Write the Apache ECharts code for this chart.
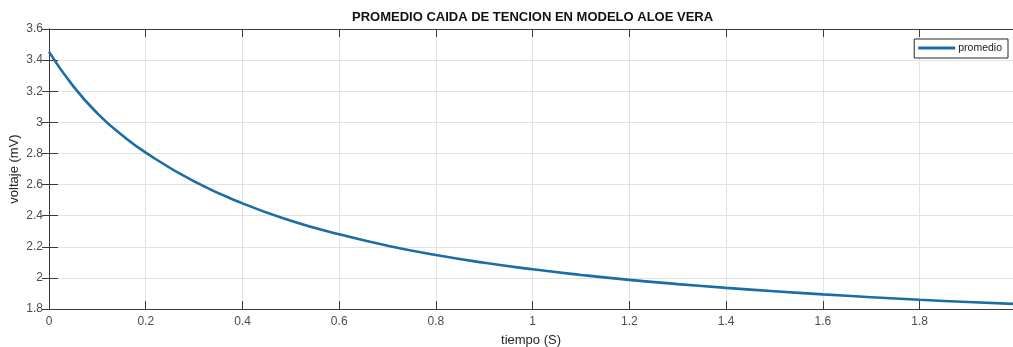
<!DOCTYPE html>
<html>
<head>
<meta charset="utf-8">
<script src="https://cdn.jsdelivr.net/npm/echarts@6/dist/echarts.min.js"></script>
<style>
html,body{margin:0;padding:0;background:#fff;}
#chart{width:1013px;height:347px;}
</style>
</head>
<body>
<div id="chart"></div>
<script>
const tiempo   = [0, 0.05, 0.1, 0.15, 0.2, 0.3, 0.4, 0.5, 0.6, 0.7, 0.8, 0.9, 1.0, 1.1, 1.2, 1.3, 1.4, 1.5, 1.6, 1.7, 1.8, 1.9, 1.993];
const promedio = [3.453, 3.233, 3.058, 2.92, 2.805, 2.62, 2.479, 2.368, 2.28, 2.207, 2.147, 2.097, 2.055, 2.019, 1.987, 1.96, 1.936, 1.914, 1.894, 1.876, 1.859, 1.845, 1.833];
const xTicks = { min: 0, max: 1.993, interval: 0.2 };
const yTicks = { min: 1.8, max: 3.6, interval: 0.2 };
const titleText = 'PROMEDIO CAIDA DE TENCION EN MODELO ALOE VERA';
const seriesName = 'promedio';

const FONT = "'Liberation Sans', Arial, sans-serif";
const axisCol = '#3a3a3a';
const labelCol = '#4d4d4d';
const gridCol = '#e2e2e2';

const chart = echarts.init(document.getElementById('chart'), null, {renderer: 'canvas'});
chart.setOption({
  animation: false,
  backgroundColor: '#fff',
  textStyle: { fontFamily: FONT },
  title: {
    text: titleText,
    left: 352, top: 11, padding: 0,
    textStyle: { fontFamily: FONT, fontSize: 13, fontWeight: 'bold', color: '#111' }
  },
  legend: {
    data: [seriesName],
    right: 5, top: 39,
    orient: 'horizontal',
    backgroundColor: '#fff',
    borderColor: '#262626', borderWidth: 1, borderRadius: 0,
    padding: [3, 6, 4, 4],
    icon: 'rect', itemWidth: 37, itemHeight: 3, itemGap: 4,
    textStyle: { fontFamily: FONT, fontSize: 10.5, color: '#1a1a1a', padding: [0, 0, 0, -2], lineHeight: 12 }
  },
  grid: { left: 49, top: 29, right: 0, bottom: 38, containLabel: false, outerBoundsMode: 'none' },
  xAxis: [{
    type: 'value', position: 'bottom',
    min: xTicks.min, max: xTicks.max, interval: xTicks.interval,
    name: 'tiempo (S)', nameLocation: 'middle', nameGap: 25, nameMoveOverlap: false,
    nameTextStyle: { fontFamily: FONT, fontSize: 13, color: '#262626' },
    axisLine: { show: true, lineStyle: { color: axisCol, width: 1 } },
    axisTick: { show: true, inside: true, length: 8, lineStyle: { color: axisCol } },
    axisLabel: { color: labelCol, fontSize: 12, margin: 7, showMaxLabel: false, fontFamily: FONT },
    splitLine: { show: true, lineStyle: { color: gridCol, width: 1 } }
  }, {
    type: 'value', position: 'top',
    min: xTicks.min, max: xTicks.max, interval: xTicks.interval,
    axisLine: { show: true, lineStyle: { color: axisCol, width: 1 } },
    axisTick: { show: true, inside: true, length: 8, lineStyle: { color: axisCol } },
    axisLabel: { show: false },
    splitLine: { show: false }
  }],
  yAxis: [{
    type: 'value', position: 'left',
    min: yTicks.min, max: yTicks.max, interval: yTicks.interval,
    name: 'voltaje (mV)', nameLocation: 'middle', nameGap: 28, nameRotate: 90, nameMoveOverlap: false,
    nameTextStyle: { fontFamily: FONT, fontSize: 13, color: '#262626' },
    axisLine: { show: true, lineStyle: { color: axisCol, width: 1 } },
    axisTick: { show: true, inside: true, length: 9, lineStyle: { color: axisCol } },
    axisLabel: { color: labelCol, fontSize: 12, margin: 6, fontFamily: FONT,
                 formatter: v => String(Math.round(v * 10) / 10) },
    splitLine: { show: true, lineStyle: { color: gridCol, width: 1 } }
  }, {
    type: 'value', position: 'right',
    min: yTicks.min, max: yTicks.max, interval: yTicks.interval,
    axisLine: { show: true, lineStyle: { color: axisCol, width: 1 } },
    axisTick: { show: true, inside: true, length: 7, lineStyle: { color: axisCol } },
    axisLabel: { show: false },
    splitLine: { show: false }
  }],
  series: [{
    name: seriesName,
    type: 'line',
    xAxisIndex: 0, yAxisIndex: 0,
    data: tiempo.map((t, i) => [t, promedio[i]]),
    showSymbol: false, symbol: 'none',
    smooth: 0.5,
    lineStyle: { color: '#1b6da3', width: 2.6 },
    itemStyle: { color: '#1b6da3' },
    clip: true
  }]
});
</script>
</body>
</html>
